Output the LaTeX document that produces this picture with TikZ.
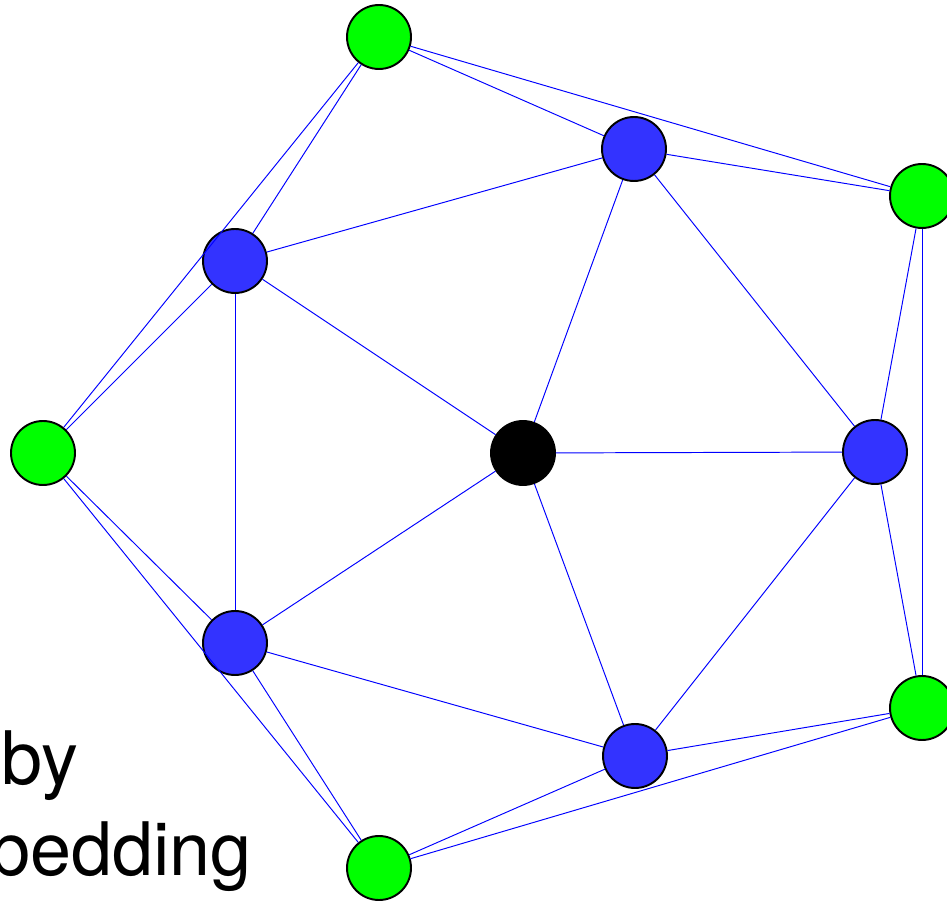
\documentclass[tikz,border=0pt]{standalone}
\usepackage{fontspec}
\setmainfont{TeX Gyre Heros}
\definecolor{nodegreen}{RGB}{0,255,0}
\definecolor{nodeblue}{RGB}{51,51,255}
\definecolor{edgeblue}{RGB}{0,0,255}
\tikzset{
	vertex/.style={circle, draw=black, line width=1.1pt, minimum size=1.28cm, inner sep=0pt}, % common look of every vertex
	outer/.style={vertex, fill=nodegreen},
	inner/.style={vertex, fill=nodeblue},
	hub/.style={vertex, fill=black},
	link/.style={draw=edgeblue, line width=0.55pt}, % thin blue edges
	caption/.style={font=\fontsize{42}{51}\selectfont, inner sep=0pt, anchor=base east},
}
\begin{document}
\begin{tikzpicture}[x=0.02cm, y=-0.02cm]
				\useasboundingbox (0,0) rectangle (947,901);
				
				% Vertices
				\node[hub] (c) at (523,453) {};
				\node[inner] (b1) at (634,149) {};
				\node[inner] (b2) at (875,452) {};
				\node[inner] (b3) at (635,756) {};
				\node[inner] (b4) at (235,643) {};
				\node[inner] (b5) at (235,261) {};
				\node[outer] (g1) at (379,37) {};
				\node[outer] (g2) at (922,196) {};
				\node[outer] (g3) at (922,708) {};
				\node[outer] (g4) at (379,868) {};
				\node[outer] (g5) at (43,453) {};
				
				% Edges
				\path[link]
				(c) edge (b1) (c) edge (b2) (c) edge (b3) (c) edge (b4) (c) edge (b5)
				(b1) edge (b2) (b2) edge (b3) (b3) edge (b4) (b4) edge (b5) (b5) edge (b1)
				(g1) edge (g2) (g2) edge (g3) (g3) edge (g4) (g4) edge (g5) (g5) edge (g1)
				(g1) edge (b1) (g1) edge (b5)
				(g2) edge (b1) (g2) edge (b2)
				(g3) edge (b2) (g3) edge (b3)
				(g4) edge (b3) (g4) edge (b4)
				(g5) edge (b4) (g5) edge (b5);
				
				% Caption
				\node[caption] (by) at (79,785) {by};
				\node[caption] (word) at (252,875) {bedding};
			\end{tikzpicture}
\end{document}
